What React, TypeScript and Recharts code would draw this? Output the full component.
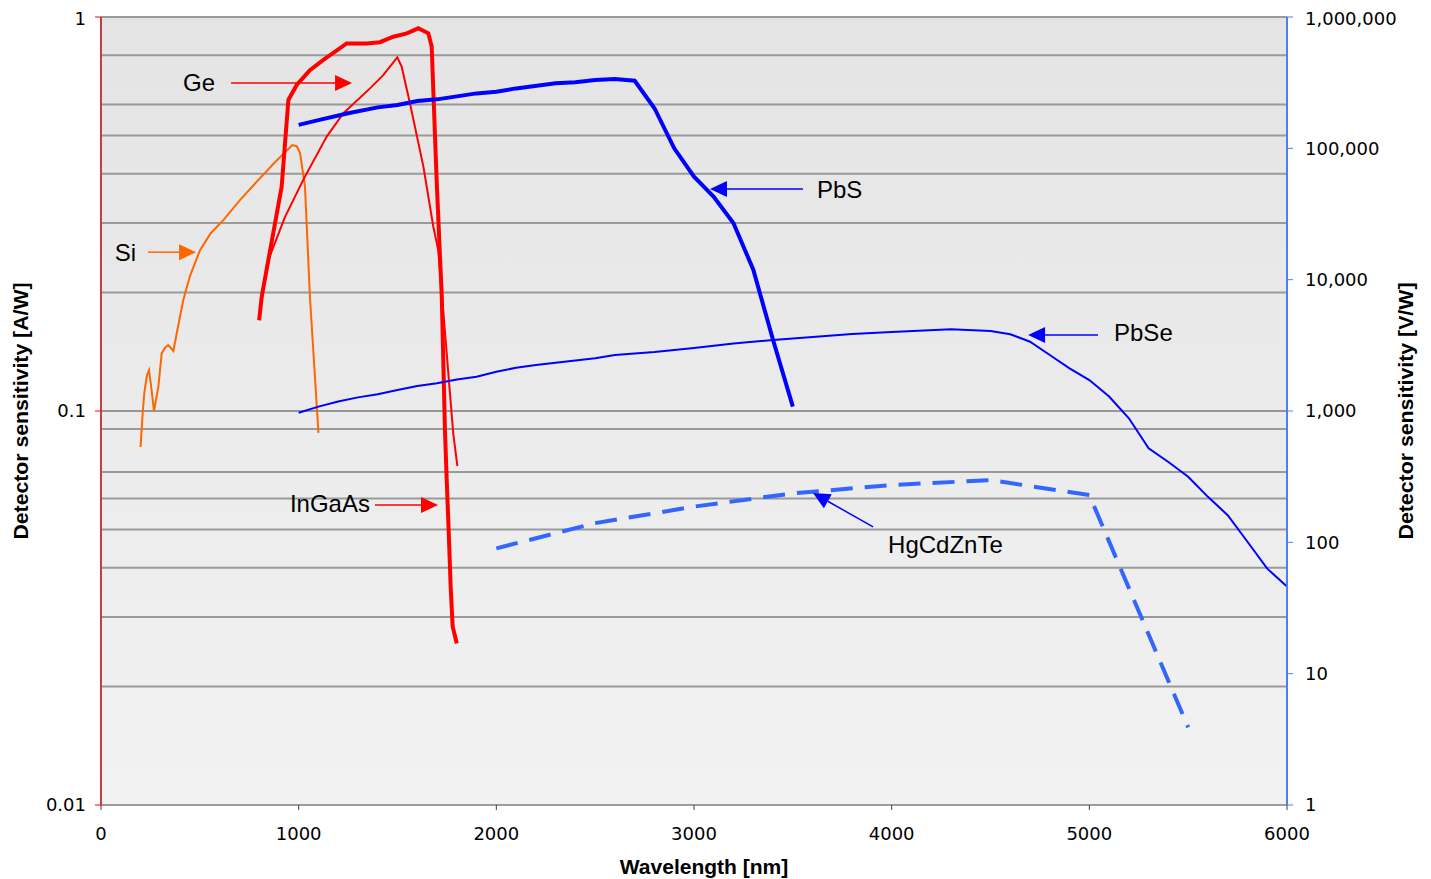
import React from "react";
import { LineChart, Line, XAxis, YAxis, CartesianGrid, ReferenceLine } from "recharts";

// axis ticks
const wavelengthTicks = [0, 1000, 2000, 3000, 4000, 5000, 6000];
const ampTicks = [0.01, 0.1, 1];
const voltTicks = [1, 10, 100, 1000, 10000, 100000, 1000000];
const minorGrid = [
    0.02, 0.03, 0.04, 0.05, 0.06, 0.07, 0.08, 0.09,
    0.2, 0.3, 0.4, 0.5, 0.6, 0.7, 0.8, 0.9, 1,
];
const decadeGrid = [0.1];

// Si photodiode [A/W]
const siWl = [200, 211, 219, 232, 243, 256, 268, 290, 307, 325, 340, 366, 391, 416, 450, 501, 556, 619, 703, 788, 880, 968, 990, 1007, 1032, 1057, 1100];
const siResp = [0.081, 0.099, 0.111, 0.123, 0.127, 0.113, 0.1, 0.115, 0.14, 0.145, 0.147, 0.142, 0.165, 0.191, 0.22, 0.256, 0.283, 0.305, 0.343, 0.382, 0.428, 0.473, 0.47, 0.452, 0.371, 0.195, 0.088];

// Ge [A/W]
const geWl = [800, 813, 914, 948, 990, 1057, 1125, 1243, 1344, 1411, 1479, 1547, 1605, 1656, 1673, 1698, 1724, 1740, 1749, 1760, 1769, 1779, 1800];
const geResp = [0.17, 0.195, 0.371, 0.616, 0.672, 0.733, 0.778, 0.857, 0.857, 0.863, 0.891, 0.909, 0.936, 0.909, 0.841, 0.386, 0.195, 0.0895, 0.0668, 0.048, 0.0358, 0.0284, 0.0257];

// InGaAs [A/W]
const ingaasWl = [800, 840, 930, 1023, 1142, 1226, 1361, 1428, 1499, 1521, 1563, 1631, 1681, 1706, 1749, 1782, 1803];
const ingaasResp = [0.17, 0.237, 0.31, 0.386, 0.497, 0.57, 0.659, 0.712, 0.79, 0.748, 0.604, 0.417, 0.294, 0.256, 0.14, 0.0877, 0.0725];

// PbS [V/W]
const pbsWl = [1000, 1100, 1250, 1400, 1500, 1600, 1700, 1900, 2000, 2100, 2300, 2400, 2500, 2600, 2700, 2800, 2900, 3000, 3100, 3200, 3300, 3400, 3500];
const pbsResp = [151000, 164000, 185000, 205000, 214000, 229000, 236000, 262000, 270000, 286000, 313000, 318000, 331000, 337000, 327000, 202000, 100000, 60800, 42800, 26900, 11900, 3470, 1080];

// PbSe [V/W]
const pbseWl = [1000, 1100, 1200, 1300, 1400, 1500, 1600, 1700, 1800, 1900, 2000, 2100, 2200, 2300, 2500, 2600, 2800, 3000, 3200, 3400, 3600, 3800, 4000, 4300, 4500, 4600, 4700, 4800, 4900, 5000, 5100, 5200, 5300, 5400, 5500, 5600, 5700, 5800, 5900, 6000];
const pbseResp = [970, 1080, 1180, 1270, 1340, 1445, 1550, 1625, 1740, 1825, 1990, 2135, 2240, 2330, 2520, 2670, 2810, 3020, 3270, 3470, 3660, 3860, 4000, 4190, 4060, 3840, 3370, 2670, 2110, 1720, 1290, 880, 520, 409, 316, 222, 161, 101, 63, 46];

// HgCdZnTe [V/W]
const hgWl = [2000, 2500, 3000, 3500, 4000, 4500, 5000, 5500];
const hgResp = [90, 140, 187, 236, 273, 298, 229, 3.9];

const toPoints = (xs: number[], ys: number[]) => xs.map((x, i) => ({ x, y: ys[i] }));

const siData = toPoints(siWl, siResp);
const geData = toPoints(geWl, geResp);
const ingaasData = toPoints(ingaasWl, ingaasResp);
const pbsData = toPoints(pbsWl, pbsResp);
const pbseData = toPoints(pbseWl, pbseResp);
const hgData = toPoints(hgWl, hgResp);

// callouts: text + arrow from tail to head (data units of the given axis)
type Callout = {
    label: string;
    axis: "left" | "right";
    from: { x: number; y: number };
    to: { x: number; y: number };
    color: string;
    textSide: "before" | "after";
    gap: number;
    dy: number;
};

const callouts: Callout[] = [
    { label: "Ge", axis: "left", from: { x: 658, y: 0.68 }, to: { x: 1270, y: 0.68 }, color: "#FF0000", textSide: "before", gap: 16, dy: 0 },
    { label: "Si", axis: "left", from: { x: 238, y: 0.253 }, to: { x: 481, y: 0.253 }, color: "#FF6600", textSide: "before", gap: 12, dy: 0 },
    { label: "InGaAs", axis: "left", from: { x: 1386, y: 0.0577 }, to: { x: 1705, y: 0.0577 }, color: "#FF0000", textSide: "before", gap: 5, dy: -2 },
    { label: "PbS", axis: "right", from: { x: 3551, y: 49000 }, to: { x: 3081, y: 49000 }, color: "#0000FF", textSide: "after", gap: 14, dy: 0 },
    { label: "PbSe", axis: "right", from: { x: 5044, y: 3790 }, to: { x: 4690, y: 3790 }, color: "#0000FF", textSide: "after", gap: 16, dy: -3 },
    { label: "HgCdZnTe", axis: "right", from: { x: 3906, y: 131 }, to: { x: 3602, y: 238 }, color: "#0000FF", textSide: "after", gap: 15, dy: 18 },
];

const arrowShape = (c: Callout) => (p: any) => {
    const { x1, y1, x2, y2 } = p;
    const dx = x2 - x1;
    const dy = y2 - y1;
    const len = Math.hypot(dx, dy) || 1;
    const ux = dx / len;
    const uy = dy / len;
    const hl = 17;
    const hw = 8;
    const bx = x2 - ux * hl;
    const by = y2 - uy * hl;
    const head = `${x2},${y2} ${bx - uy * hw},${by + ux * hw} ${bx + uy * hw},${by - ux * hw}`;
    const tx = c.textSide === "before" ? x1 - c.gap : x1 + c.gap;
    return (
        <g>
            <line x1={x1} y1={y1} x2={bx} y2={by} stroke={c.color} strokeWidth={1.5} />
            <polygon points={head} fill={c.color} />
            <text
                x={tx}
                y={y1 + c.dy}
                textAnchor={c.textSide === "before" ? "end" : "start"}
                dominantBaseline="central"
                fontFamily="'Liberation Sans', Arial, sans-serif"
                fontSize={24}
                fill="#000"
            >
                {c.label}
            </text>
        </g>
    );
};

const tickFont = { fontFamily: "'DejaVu Sans', Verdana, sans-serif", fontSize: 18, fill: "#000" };

const VerticalTitle = ({ cx, cy, text }: { cx: number; cy: number; text: string }) => (
    <text
        x={cx}
        y={cy}
        transform={`rotate(-90 ${cx} ${cy})`}
        textAnchor="middle"
        dominantBaseline="central"
        fontFamily="'Liberation Sans Narrow', 'Liberation Sans', Arial, sans-serif"
        fontWeight="bold"
        fontSize={21}
        textLength={257}
        lengthAdjust="spacingAndGlyphs"
        fill="#000"
    >
        {text}
    </text>
);

const LeftTitle = (props: any) => {
    const { x, y, height } = props.viewBox;
    return <VerticalTitle cx={x + 12} cy={y + height / 2} text="Detector sensitivity [A/W]" />;
};

const RightTitle = (props: any) => {
    const { x, y, height } = props.viewBox;
    return <VerticalTitle cx={x + 118} cy={y + height / 2} text="Detector sensitivity [V/W]" />;
};

const BottomTitle = (props: any) => {
    const { x, y, width } = props.viewBox;
    return (
        <text
            x={x + width / 2 + 10}
            y={y + 61}
            textAnchor="middle"
            dominantBaseline="central"
            fontFamily="'Liberation Sans', Arial, sans-serif"
            fontWeight="bold"
            fontSize={21}
            fill="#000"
        >
            Wavelength [nm]
        </text>
    );
};

export default function App() {
    return (
        <div style={{ position: "absolute", left: 8, top: 8, width: 1415, height: 871 }}>
            <LineChart width={1415} height={871} margin={{ top: 9, right: 16, bottom: 24, left: 0 }}>
                <defs>
                    <linearGradient id="plotBg" x1="0" y1="0" x2="0" y2="1">
                        <stop offset="0%" stopColor="#E4E4E4" />
                        <stop offset="100%" stopColor="#F2F2F2" />
                    </linearGradient>
                </defs>
                <CartesianGrid
                    yAxisId="left"
                    vertical={false}
                    horizontalValues={minorGrid}
                    stroke="#9A9A9A"
                    strokeWidth={2}
                    fill="url(#plotBg)"
                    fillOpacity={1}
                />
                <CartesianGrid
                    yAxisId="left"
                    vertical={false}
                    horizontalValues={decadeGrid}
                    stroke="#404040"
                    strokeWidth={1}
                />
                <XAxis
                    type="number"
                    dataKey="x"
                    domain={[0, 6000]}
                    ticks={wavelengthTicks}
                    allowDataOverflow
                    height={50}
                    tickSize={5}
                    tickMargin={17}
                    tick={tickFont}
                    stroke="#404040"
                    label={{ content: BottomTitle }}
                />
                <YAxis
                    yAxisId="left"
                    orientation="left"
                    scale="log"
                    domain={[0.01, 1]}
                    allowDataOverflow
                    ticks={ampTicks}
                    width={93}
                    tickSize={6}
                    tickMargin={9}
                    tick={tickFont}
                    tickFormatter={(v: number) => String(v)}
                    axisLine={{ stroke: "#C0404A", strokeWidth: 2 }}
                    tickLine={{ stroke: "#FF0000" }}
                    label={{ content: LeftTitle }}
                />
                <YAxis
                    yAxisId="right"
                    orientation="right"
                    scale="log"
                    domain={[1, 1000000]}
                    allowDataOverflow
                    ticks={voltTicks}
                    width={120}
                    tickSize={6}
                    tickMargin={12}
                    tick={tickFont}
                    tickFormatter={(v: number) => v.toLocaleString("en-US")}
                    axisLine={{ stroke: "#4D7CFF", strokeWidth: 2 }}
                    tickLine={{ stroke: "#4D7CFF" }}
                    label={{ content: RightTitle }}
                />
                <Line data={siData} dataKey="y" yAxisId="left" type="linear" stroke="#FF6600" strokeWidth={2} dot={false} isAnimationActive={false} />
                <Line data={ingaasData} dataKey="y" yAxisId="left" type="linear" stroke="#FF0000" strokeWidth={2} dot={false} isAnimationActive={false} />
                <Line data={geData} dataKey="y" yAxisId="left" type="linear" stroke="#FF0000" strokeWidth={4} dot={false} isAnimationActive={false} />
                <Line data={pbseData} dataKey="y" yAxisId="right" type="linear" stroke="#0000FF" strokeWidth={2} dot={false} isAnimationActive={false} />
                <Line data={hgData} dataKey="y" yAxisId="right" type="linear" stroke="#3366FF" strokeWidth={4} strokeDasharray="22 12" dot={false} isAnimationActive={false} />
                <Line data={pbsData} dataKey="y" yAxisId="right" type="linear" stroke="#0000FF" strokeWidth={4} dot={false} isAnimationActive={false} />
                {callouts.map((c) => (
                    <ReferenceLine
                        key={c.label}
                        yAxisId={c.axis}
                        segment={[c.from, c.to]}
                        ifOverflow="visible"
                        shape={arrowShape(c)}
                    />
                ))}
            </LineChart>
        </div>
    );
}
